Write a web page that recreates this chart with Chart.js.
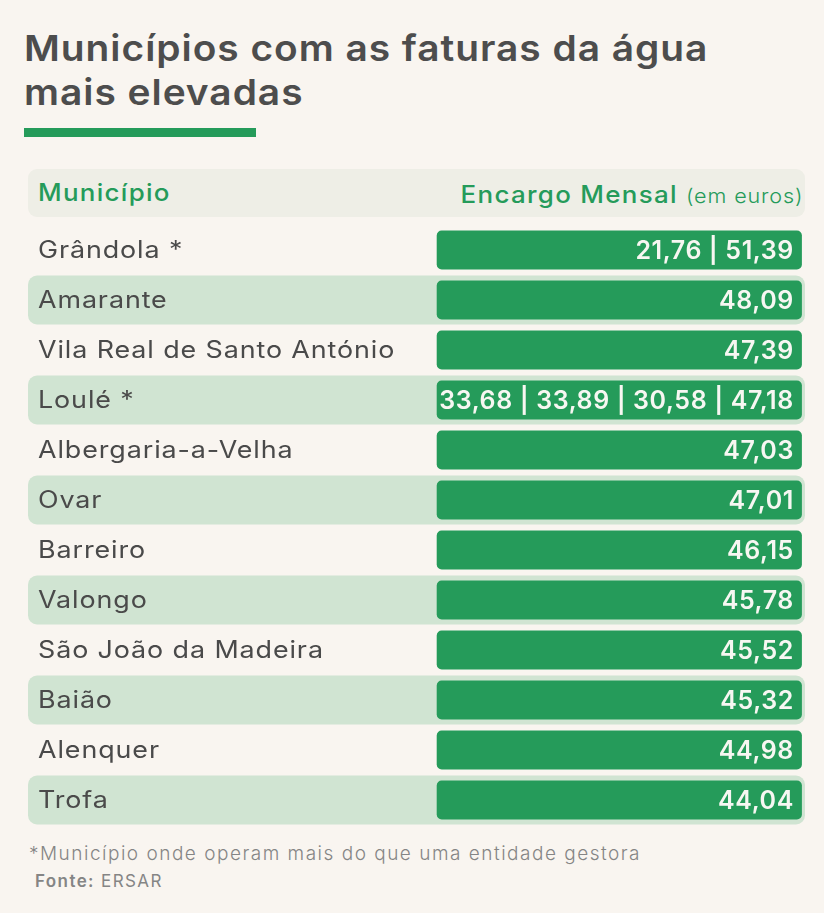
<!DOCTYPE html>
<html lang="pt">
<head>
  <meta charset="UTF-8">
  <title>Municípios com as faturas da água mais elevadas</title>
  <script src="https://cdn.jsdelivr.net/npm/chart.js"></script>
  <style>
    body {
      margin: 0;
      width: 824px;
      height: 913px;
      background: #f9f5f0;
      font-family: Inter, sans-serif;
      position: relative;
      overflow: hidden;
    }
    h1 {
      position: absolute;
      left: 24px;
      top: 26px;
      margin: 0;
      font-size: 36px;
      line-height: 44px;
      font-weight: 600;
      color: #4d4d4d;
      letter-spacing: 0.9px;
      transform: scaleX(1.08);
      transform-origin: left top;
      white-space: nowrap;
    }
    .rule {
      position: absolute;
      left: 24px;
      top: 128px;
      width: 232px;
      height: 9px;
      background: #259b5a;
    }
    .header {
      position: absolute;
      left: 28px;
      top: 169px;
      width: 777px;
      height: 48px;
      background: #eeeee6;
      border-radius: 9px;
      color: #259b5a;
      font-size: 24px;
      font-weight: 500;
      letter-spacing: 1.2px;
    }
    .header .left {
      position: absolute; left: 10px; top: 9px;
      transform: scaleX(1.08); transform-origin: left center;
    }
    .header .right {
      position: absolute; right: 2px; top: 11px; white-space: nowrap;
      transform: scaleX(1.08); transform-origin: right center;
    }
    .header .right small { font-size: 20px; font-weight: 300; letter-spacing: 0.8px; }
    .chart-box {
      position: absolute;
      left: 28px;
      top: 225px;
      width: 777px;
      height: 600px;
    }
    .note {
      position: absolute;
      left: 29px;
      top: 842px;
      font-size: 19px;
      font-weight: 300;
      color: #858585;
      letter-spacing: 1.5px;
    }
    .source {
      position: absolute;
      left: 35px;
      top: 871px;
      font-size: 17px;
      color: #858585;
      letter-spacing: 1.4px;
    }
    .source b { font-weight: 600; }
  </style>
</head>
<body>
  <h1>Municípios com as faturas da água<br>mais elevadas</h1>
  <div class="rule"></div>
  <div class="header">
    <span class="left">Município</span>
    <span class="right">Encargo Mensal <small>(em euros)</small></span>
  </div>
  <div class="chart-box"><canvas id="tableChart"></canvas></div>
  <div class="note">*Município onde operam mais do que uma entidade gestora</div>
  <div class="source"><b>Fonte:</b> ERSAR</div>

  <script>
    // municipalities, top to bottom
    const municipios = [
      'Grândola *', 'Amarante', 'Vila Real de Santo António', 'Loulé *',
      'Albergaria-a-Velha', 'Ovar', 'Barreiro', 'Valongo',
      'São João da Madeira', 'Baião', 'Alenquer', 'Trofa'
    ];

    // monthly charge in euros (several values where more than one operator)
    const encargos = [
      [21.76, 51.39], [48.09], [47.39], [33.68, 33.89, 30.58, 47.18],
      [47.03], [47.01], [46.15], [45.78],
      [45.52], [45.32], [44.98], [44.04]
    ];

    const fmt = v => v.toFixed(2).replace('.', ',');
    const labels = encargos.map(list => list.map(fmt).join(' | '));

    // table layout in x-scale units (0 = left of table, 1 = right)
    const CELL_START = 0.526;
    const CELL_END = 0.996;

    const bandData = municipios.map((_, i) => (i % 2 === 1 ? [0, 1] : null));
    const cellData = municipios.map(() => [CELL_START, CELL_END]);

    const textPlugin = {
      id: 'tableText',
      afterDatasetsDraw(chart) {
        const { ctx, scales } = chart;
        const x = scales.x;
        const y = scales.y;
        municipios.forEach((name, i) => {
          const py = y.getPixelForValue(i);
          // municipality name, slightly widened
          ctx.save();
          ctx.translate(x.getPixelForValue(0) + 10, py + 1);
          ctx.scale(1.12, 1);
          ctx.textBaseline = 'middle';
          ctx.textAlign = 'left';
          ctx.fillStyle = '#4a4a4a';
          ctx.font = '400 24px Inter, sans-serif';
          ctx.letterSpacing = '0.8px';
          ctx.fillText(name, 0, 0);
          ctx.restore();
          // value(s) inside the green cell
          ctx.save();
          ctx.textBaseline = 'middle';
          ctx.textAlign = 'right';
          ctx.fillStyle = '#f7f7f2';
          ctx.font = '600 25px Inter, sans-serif';
          ctx.letterSpacing = '0.6px';
          ctx.fillText(labels[i], x.getPixelForValue(CELL_END) - 8, py + 1);
          ctx.restore();
        });
      }
    };

    new Chart(document.getElementById('tableChart').getContext('2d'), {
      type: 'bar',
      data: {
        labels: municipios,
        datasets: [
          {
            label: 'Encargo',
            data: cellData,
            backgroundColor: '#259b5a',
            borderRadius: 5,
            borderSkipped: false,
            categoryPercentage: 1,
            barPercentage: 0.78,
            grouped: false
          },
          {
            label: 'band',
            data: bandData,
            backgroundColor: '#d0e4d2',
            borderRadius: 9,
            borderSkipped: false,
            categoryPercentage: 1,
            barPercentage: 0.98,
            grouped: false
          }
        ]
      },
      options: {
        indexAxis: 'y',
        responsive: true,
        maintainAspectRatio: false,
        animation: false,
        layout: { padding: 0 },
        plugins: {
          legend: { display: false },
          tooltip: { enabled: false }
        },
        scales: {
          x: { display: false, min: 0, max: 1 },
          y: { display: false }
        }
      },
      plugins: [textPlugin]
    });
  </script>
</body>
</html>
